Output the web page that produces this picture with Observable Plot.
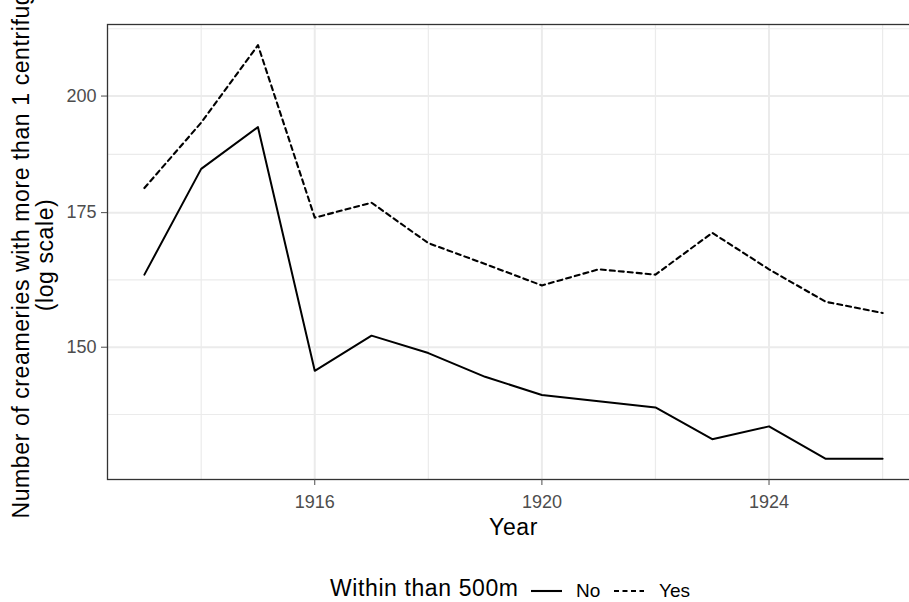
<!DOCTYPE html>
<html><head><meta charset="utf-8">
<script src="https://cdn.jsdelivr.net/npm/d3@7"></script>
<script src="https://cdn.jsdelivr.net/npm/@observablehq/plot@0.6"></script>
<style>
html,body{margin:0;padding:0;background:#fff;overflow:hidden;}
#wrap{position:relative;width:909px;height:602px;overflow:hidden;font-family:"Liberation Sans",Arial,sans-serif;}
#wrap svg.plot{position:absolute;left:0;top:0;}
.lg{position:absolute;white-space:nowrap;color:#000;line-height:0.9;}
</style></head><body><div id="wrap"></div>
<script>
const years = [1913,1914,1915,1916,1917,1918,1919,1920,1921,1922,1923,1924,1925,1926];
const noValues  = [163,184,193,146,152,149,145,142,141,140,135,137,132,132];
const yesValues = [180,194,212,174,177,169,165,161,164,163,171,164,158,156];
const groups = ["No","Yes"];
const yTicks = [150,175,200];
const xTicks = [1916,1920,1924];
const xMinorTicks = [1914,1918,1922,1926];
const yTitleLines = ["Number of creameries with more than 1 centrifuges", "(log scale)"];
const xTitle = "Year";
const legendTitle = "Within than 500m";

const series = {No: noValues, Yes: yesValues};
const data = groups.flatMap(g => years.map((yr, i) => ({year: yr, value: series[g][i], group: g})));

// log-scale expansion (5%) like ggplot
const all = data.map(d => d.value);
const lo = d3.min(all), hi = d3.max(all);
const L = Math.log(hi / lo);
const yDomain = [lo * Math.exp(-0.05 * L), hi * Math.exp(0.05 * L)];
const xExt = (d3.max(years) - d3.min(years)) * 0.05;
const xDomain = [d3.min(years) - xExt, d3.max(years) + xExt];

// minor breaks: midpoints in log space between extended major breaks
const step = Math.log(yTicks[1] / yTicks[0]);
const extTicks = [yTicks[0] * Math.exp(-step), ...yTicks, yTicks[yTicks.length - 1] * Math.exp(step)];
const yMinor = d3.pairs(extTicks, (a, b) => Math.sqrt(a * b));

const FONT = '"Liberation Sans", Arial, sans-serif';

const plot = Plot.plot({
  width: 909, height: 602,
  marginLeft: 107, marginTop: 24, marginRight: -10, marginBottom: 123,
  style: {fontFamily: FONT, background: "white"},
  x: {domain: xDomain},
  y: {type: "log", domain: yDomain},
  marks: [
    Plot.ruleY(yMinor, {stroke: "#ebebeb", strokeWidth: 1.2}),
    Plot.ruleX(xMinorTicks, {stroke: "#ebebeb", strokeWidth: 1.2}),
    Plot.ruleY(yTicks, {stroke: "#ebebeb", strokeWidth: 2}),
    Plot.ruleX(xTicks, {stroke: "#ebebeb", strokeWidth: 2}),
    Plot.line(data.filter(d => d.group === "No"), {x: "year", y: "value", stroke: "#000", strokeWidth: 2}),
    Plot.line(data.filter(d => d.group === "Yes"), {x: "year", y: "value", stroke: "#000", strokeWidth: 2.1, strokeDasharray: "5,4"}),
    Plot.frame({stroke: "#333", strokeWidth: 1.3}),
    Plot.axisY(yTicks, {tickSize: 6, tickPadding: 5, fontSize: 18, color: "#4d4d4d", label: null, tickFormat: d => String(d)}),
    Plot.axisX(xTicks, {tickSize: 6, tickPadding: 10, fontSize: 18, color: "#4d4d4d", label: null, tickFormat: d => String(d)}),
    Plot.text([yTitleLines[0]], {frameAnchor: "bottom-left", dx: -79, dy: 39, rotate: -90, fontSize: 23, textAnchor: "start", lineAnchor: "bottom", fill: "#000"}),
    Plot.text([yTitleLines[1]], {frameAnchor: "left", dx: -55, dy: 3, rotate: -90, fontSize: 23, textAnchor: "middle", lineAnchor: "bottom", fill: "#000"}),
    Plot.text([xTitle], {frameAnchor: "bottom", dy: 55, fontSize: 23, lineAnchor: "bottom", fill: "#000"})
  ]
});
const wrap = document.getElementById("wrap");
wrap.appendChild(plot);
// slightly wider letter spacing for titles (reference font runs wide)
d3.select(plot).selectAll("text").filter(function() {
  return [...yTitleLines, xTitle].includes(this.textContent);
}).style("letter-spacing", "0.6px");

// legend (below the panel)
function addText(txt, left, top, size, ls) {
  const s = document.createElement("div");
  s.className = "lg";
  s.style.left = left + "px"; s.style.top = top + "px"; s.style.fontSize = size + "px";
  if (ls) s.style.letterSpacing = ls;
  s.textContent = txt;
  wrap.appendChild(s);
}
function addKey(left, width, dash) {
  const svg = d3.create("svg").attr("width", width).attr("height", 10)
    .style("position", "absolute").style("left", left + "px").style("top", "586px");
  svg.append("line").attr("x1", 0).attr("x2", width).attr("y1", 5).attr("y2", 5)
    .attr("stroke", "#000").attr("stroke-width", 2.1).attr("stroke-dasharray", dash || null);
  wrap.appendChild(svg.node());
}
addText(legendTitle, 330, 578, 23, "0.6px");
addKey(531, 31, null);
addText(groups[0], 576, 582, 19);
addKey(614, 30, "5,3.5");
addText(groups[1], 659, 582, 19);
</script>
</body></html>
